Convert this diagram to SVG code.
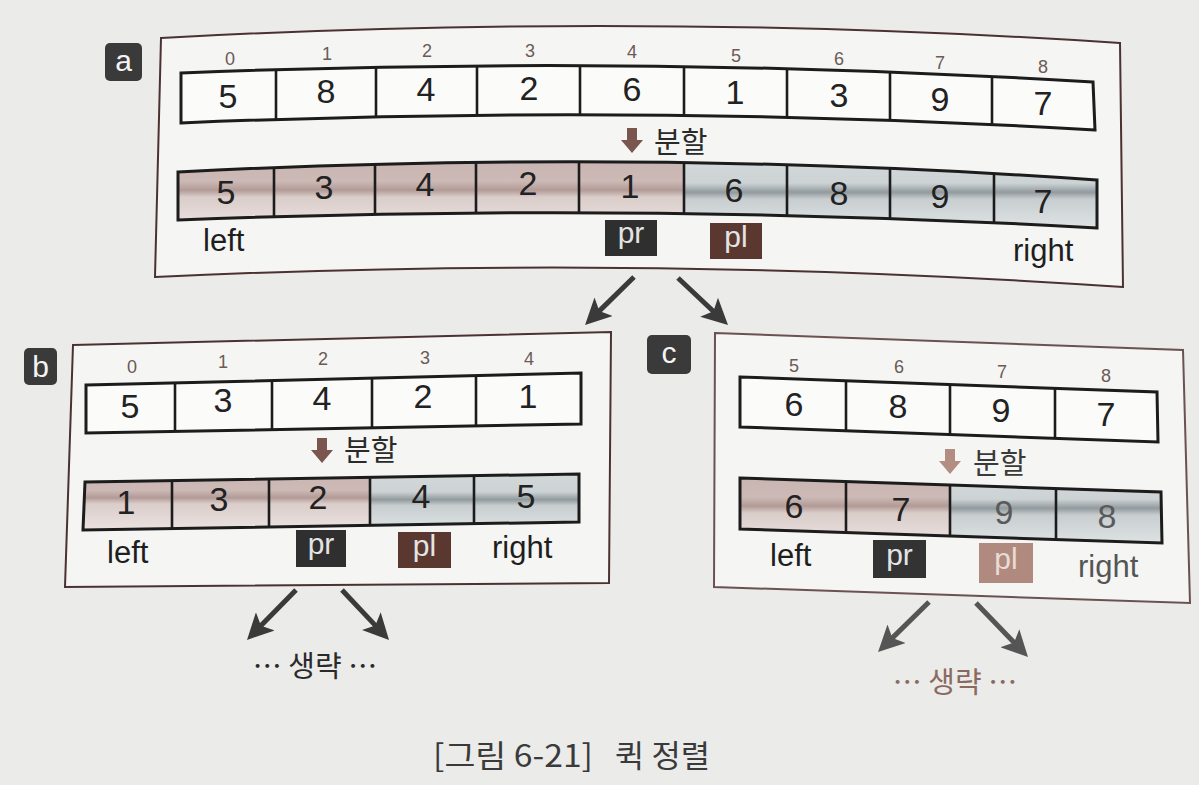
<svg xmlns="http://www.w3.org/2000/svg" width="1199" height="785" viewBox="0 0 1199 785">
<defs>
<style>
.frame{fill:#f5f5f3;stroke:#4a3232;stroke-width:2}
.cell{fill:#fbfbfa}
.out{fill:none;stroke:#1c1c1c;stroke-width:3;stroke-linejoin:miter}
.dv{fill:none;stroke:#1c1c1c;stroke-width:2.6}
.val{font-family:"Liberation Sans",Arial,sans-serif;font-size:34px;fill:#222;text-anchor:middle}
.idx{font-family:"Liberation Sans",Arial,sans-serif;font-size:18px;fill:#6b5a56;text-anchor:middle}
.lbl{font-family:"Liberation Sans",Arial,sans-serif;font-size:31px;fill:#1e1e1e}
.kr{font-family:"Noto Sans CJK KR",sans-serif;font-size:29px;fill:#2a2a2a}
.tag{font-family:"Liberation Sans",Arial,sans-serif;font-size:30px;fill:#e4e4e4;text-anchor:middle}
.badge{fill:#3a3a3a}
.badgeT{font-family:"Liberation Sans",Arial,sans-serif;font-size:30px;fill:#f4f4f4;text-anchor:middle}
.cap{font-family:"Noto Sans CJK KR",sans-serif;font-size:31px;fill:#3a3a3a}
.conn{fill:none;stroke:#3a3a3a;stroke-width:5;marker-end:url(#ah)}
.connC{fill:none;stroke:#555;stroke-width:5;marker-end:url(#ahC)}
</style>
<linearGradient id="pink" x1="0" y1="0" x2="0" y2="1">
<stop offset="0" stop-color="#c8b4b0"/>
<stop offset="0.3" stop-color="#cdbab6"/>
<stop offset="0.43" stop-color="#b29b97"/>
<stop offset="0.53" stop-color="#dacdca"/>
<stop offset="1" stop-color="#ece4e2"/>
</linearGradient>
<linearGradient id="blue" x1="0" y1="0" x2="0" y2="1">
<stop offset="0" stop-color="#d3d8d9"/>
<stop offset="0.33" stop-color="#cdd3d5"/>
<stop offset="0.46" stop-color="#929a9e"/>
<stop offset="0.56" stop-color="#c8ced0"/>
<stop offset="1" stop-color="#e0e4e5"/>
</linearGradient>
<clipPath id="cA1"><path d="M181,73 Q637,54.5 1093,82 L1095,130 Q638,103.5 181,123 Z"/></clipPath>
<clipPath id="cA2"><path d="M178,172 Q637.5,148 1097,180 L1097,228 Q637.5,202 178,220 Z"/></clipPath>
<clipPath id="cB1"><path d="M86,385 L581,373 L581,424 L86,433 Z"/></clipPath>
<clipPath id="cB2"><path d="M85,482 L579,474 L579,522 L83,530 Z"/></clipPath>
<clipPath id="cC1"><path d="M740,377 L1157,392 L1158,442 L740,427 Z"/></clipPath>
<clipPath id="cC2"><path d="M740,478 L1161,492 L1162,543 L740,529 Z"/></clipPath>
<marker id="ah" markerUnits="userSpaceOnUse" viewBox="0 0 28 26" markerWidth="28" markerHeight="26" refX="8" refY="13" orient="auto"><path d="M0,0 L26,13 L0,26 L6,13 Z" fill="#3a3a3a"/></marker>
<marker id="ahC" markerUnits="userSpaceOnUse" viewBox="0 0 28 26" markerWidth="28" markerHeight="26" refX="8" refY="13" orient="auto"><path d="M0,0 L26,13 L0,26 L6,13 Z" fill="#555"/></marker>
<path id="split" d="M-5,0 H5 V12 H11 L0,25 L-11,12 H-5 Z"/>
</defs>

<rect x="0" y="0" width="1199" height="785" fill="#ebebe9"/>

<g id="panel-a">
<path class="frame" d="M161,38 Q640,11.5 1120,43 L1123,287 Q639,254 155,277 Z"/>
<rect class="badge" x="105" y="43" width="37" height="38" rx="5"/>
<text class="badgeT" x="123.5" y="71">a</text>

<g id="a-array-before">
<path class="cell" d="M181,73 Q637,54.5 1093,82 L1095,130 Q638,103.5 181,123 Z"/>
<g clip-path="url(#cA1)"><path class="dv" d="M276,40V160 M376,40V160 M477,40V160 M580,40V160 M684,40V160 M787,40V160 M890,40V160 M992,40V160"/></g>
<path class="out" d="M181,73 Q637,54.5 1093,82 L1095,130 Q638,103.5 181,123 Z"/>
<text class="idx" x="230" y="65">0</text><text class="idx" x="327" y="60">1</text><text class="idx" x="427" y="57">2</text><text class="idx" x="530" y="57">3</text><text class="idx" x="632" y="58">4</text><text class="idx" x="736" y="62">5</text><text class="idx" x="839" y="65">6</text><text class="idx" x="940" y="69">7</text><text class="idx" x="1043" y="73">8</text>
<text class="val" x="228" y="108">5</text><text class="val" x="326" y="103">8</text><text class="val" x="426" y="101">4</text><text class="val" x="529" y="100">2</text><text class="val" x="632" y="101">6</text><text class="val" x="735" y="104">1</text><text class="val" x="839" y="107">3</text><text class="val" x="940" y="111">9</text><text class="val" x="1043" y="115">7</text>
</g>

<g id="a-split">
<use href="#split" x="632" y="128" fill="#7a564e"/>
<text class="kr" x="654" y="153">분할</text>
</g>

<g id="a-array-after">
<g clip-path="url(#cA2)">
<rect x="170" y="160" width="514" height="70" fill="url(#pink)"/>
<rect x="684" y="160" width="420" height="70" fill="url(#blue)"/>
<path class="dv" d="M274,140V240 M375,140V240 M476,140V240 M579,140V240 M684,140V240 M787,140V240 M890,140V240 M994,140V240"/>
</g>
<path class="out" d="M178,172 Q637.5,148 1097,180 L1097,228 Q637.5,202 178,220 Z"/>
<text class="val" x="226" y="204">5</text><text class="val" x="324" y="199">3</text><text class="val" x="425" y="196">4</text><text class="val" x="528" y="195">2</text><text class="val" x="630" y="198">1</text><text class="val" x="734" y="202">6</text><text class="val" x="839" y="205">8</text><text class="val" x="940" y="208">9</text><text class="val" x="1043" y="213">7</text>
</g>

<text class="lbl" x="203" y="251">left</text>
<rect x="605" y="220" width="52" height="36" fill="#2f2f2f"/>
<text class="tag" x="631" y="243">pr</text>
<rect x="710" y="223" width="52" height="36" fill="#5a3830"/>
<text class="tag" x="736" y="247">pl</text>
<text class="lbl" x="1013" y="261">right</text>
</g>

<g id="panel-b">
<path class="frame" d="M73,345 L611,332 L609,583 L65,587 Z"/>
<rect class="badge" x="24" y="348" width="33" height="37" rx="5"/>
<text class="badgeT" x="40.5" y="377">b</text>

<g id="b-array-before">
<path class="cell" d="M86,385 L581,373 L581,424 L86,433 Z"/>
<g clip-path="url(#cB1)"><path class="dv" d="M175,360V450 M272,360V450 M372,360V450 M476,360V450"/></g>
<path class="out" d="M86,385 L581,373 L581,424 L86,433 Z"/>
<text class="idx" x="132" y="373">0</text><text class="idx" x="223" y="368">1</text><text class="idx" x="323" y="365">2</text><text class="idx" x="425" y="364">3</text><text class="idx" x="529" y="365">4</text>
<text class="val" x="130" y="418">5</text><text class="val" x="223" y="412">3</text><text class="val" x="322" y="410">4</text><text class="val" x="423" y="408">2</text><text class="val" x="528" y="408">1</text>
</g>

<g id="b-split">
<use href="#split" x="322" y="438" fill="#7a564e"/>
<text class="kr" x="344" y="461">분할</text>
</g>

<g id="b-array-after">
<g clip-path="url(#cB2)">
<rect x="80" y="472" width="290" height="60" fill="url(#pink)"/>
<rect x="370" y="472" width="212" height="60" fill="url(#blue)"/>
<path class="dv" d="M172,460V545 M269,460V545 M370,460V545 M474,460V545"/>
</g>
<path class="out" d="M85,482 L579,474 L579,522 L83,530 Z"/>
<text class="val" x="126" y="514">1</text><text class="val" x="219" y="511">3</text><text class="val" x="318" y="509">2</text><text class="val" x="421" y="508">4</text><text class="val" x="526" y="508">5</text>
</g>

<text class="lbl" x="107" y="563">left</text>
<rect x="296" y="530" width="50" height="37" fill="#2f2f2f"/>
<text class="tag" x="321" y="554">pr</text>
<rect x="398" y="532" width="53" height="36" fill="#5a3830"/>
<text class="tag" x="424.5" y="556">pl</text>
<text class="lbl" x="492" y="558">right</text>
<text class="kr" x="315" y="677" text-anchor="middle" font-size="27">… 생략 …</text>
</g>

<g id="panel-c">
<path class="frame" d="M715,333 L1183,350 L1190,603 L714,587 Z" style="stroke:#6a5252"/>
<rect class="badge" x="647" y="335" width="44" height="39" rx="5"/>
<text class="badgeT" x="669" y="363">c</text>

<g id="c-array-before">
<path class="cell" d="M740,377 L1157,392 L1158,442 L740,427 Z"/>
<g clip-path="url(#cC1)"><path class="dv" d="M846,360V460 M950,360V460 M1055,360V460"/></g>
<path class="out" d="M740,377 L1157,392 L1158,442 L740,427 Z"/>
<text class="idx" x="794" y="372">5</text><text class="idx" x="899" y="373">6</text><text class="idx" x="1002" y="378">7</text><text class="idx" x="1106" y="382">8</text>
<text class="val" x="794" y="416">6</text><text class="val" x="898" y="418">8</text><text class="val" x="1001" y="422">9</text><text class="val" x="1106" y="426">7</text>
</g>

<g id="c-split">
<use href="#split" x="950" y="449" fill="#b38c82"/>
<text class="kr" x="973" y="474" style="fill:#3a3a3a">분할</text>
</g>

<g id="c-array-after">
<g clip-path="url(#cC2)">
<rect x="735" y="476" width="215" height="70" fill="url(#pink)"/>
<rect x="950" y="476" width="215" height="70" fill="url(#blue)"/>
<path class="dv" d="M846,460V560 M950,460V560 M1056,460V560"/>
</g>
<path class="out" d="M740,478 L1161,492 L1162,543 L740,529 Z"/>
<text class="val" x="794" y="518">6</text><text class="val" x="901" y="521">7</text><text class="val" x="1004" y="524" style="fill:#5a5a5a">9</text><text class="val" x="1107" y="528" style="fill:#5a5a5a">8</text>
</g>

<text class="lbl" x="770" y="566">left</text>
<rect x="873" y="540" width="53" height="38" fill="#333"/>
<text class="tag" x="899.5" y="565">pr</text>
<rect x="979" y="543" width="54" height="40" fill="#b08a7e"/>
<text class="tag" x="1006" y="569" style="fill:#eadbd4">pl</text>
<text class="lbl" x="1078" y="577" style="fill:#555">right</text>
<text class="kr" x="955" y="693" text-anchor="middle" font-size="27" style="fill:#8a6a60">… 생략 …</text>
</g>

<g id="connectors">
<line class="conn" x1="634" y1="277" x2="597.9" y2="312.4"/>
<line class="conn" x1="678" y1="278" x2="714.9" y2="312.7"/>
<line class="conn" x1="296" y1="590" x2="259.6" y2="627.1"/>
<line class="conn" x1="342" y1="590" x2="376.7" y2="626.9"/>
<line class="connC" x1="929" y1="602" x2="890.9" y2="639.4"/>
<line class="connC" x1="976" y1="603" x2="1015.5" y2="644"/>
</g>

<g id="caption">
<text class="cap" x="433" y="767" textLength="160" lengthAdjust="spacingAndGlyphs">[그림 6-21]</text>
<text class="cap" x="615" y="767" textLength="95" lengthAdjust="spacingAndGlyphs">퀵 정렬</text>
</g>
</svg>
